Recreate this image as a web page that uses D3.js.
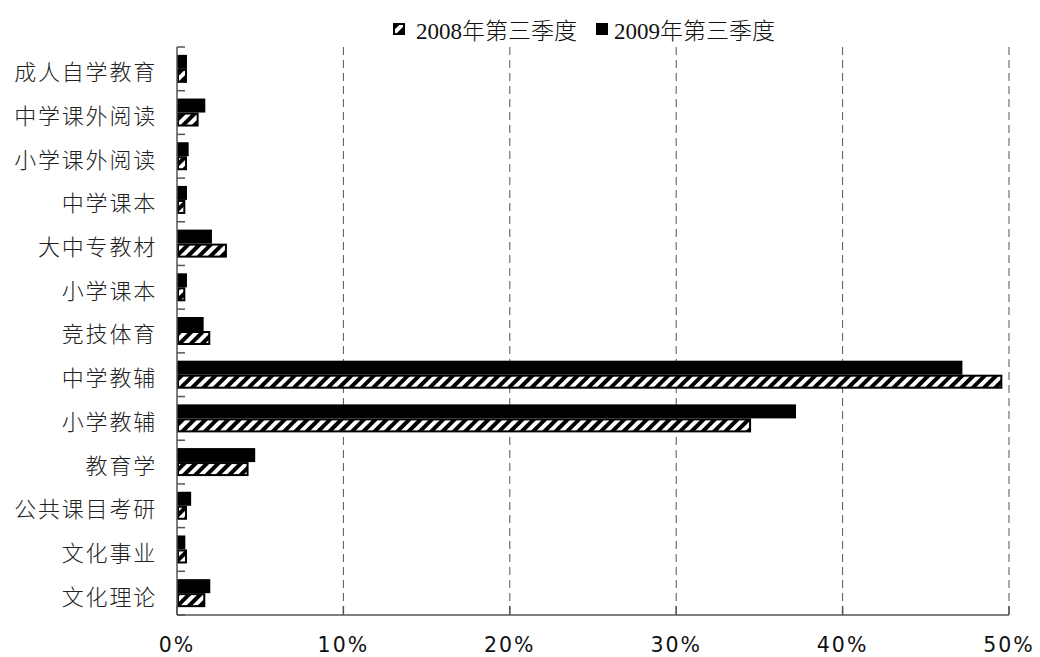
<!DOCTYPE html>
<html><head><meta charset="utf-8">
<script src="https://cdn.jsdelivr.net/npm/d3@7"></script>
<style>body{margin:0;background:#fff}</style>
</head><body>
<svg id="c" width="1040" height="657"></svg>
<script>
const categories = ["成人自学教育","中学课外阅读","小学课外阅读","中学课本","大中专教材","小学课本","竞技体育","中学教辅","小学教辅","教育学","公共课目考研","文化事业","文化理论"];
const series2008 = [0.6,1.3,0.6,0.5,3.0,0.5,2.0,49.6,34.5,4.3,0.6,0.6,1.7];
const series2009 = [0.6,1.7,0.7,0.6,2.1,0.6,1.6,47.2,37.2,4.7,0.85,0.5,2.0];
const xTicks = [0,10,20,30,40,50];
const seriesNames = ["2008年第三季度","2009年第三季度"];

(function(){
const svg = d3.select("#c");
const pl = 177, pr = 1009, pt = 47, pb = 615;
const x = d3.scaleLinear().domain([0,50]).range([pl,pr]);
const y = d3.scaleBand().domain(categories).range([pt,pb]);

const defs = svg.append("defs");
const pat = defs.append("pattern").attr("id","hatch").attr("patternUnits","userSpaceOnUse")
  .attr("width",8).attr("height",8).attr("patternTransform","rotate(45)");
pat.append("rect").attr("width",8).attr("height",8).attr("fill","#fff");
pat.append("rect").attr("x",0).attr("width",4).attr("height",8).attr("fill","#000");

svg.append("g").selectAll("line").data(xTicks.slice(1)).join("line")
  .attr("x1",d=>x(d)).attr("x2",d=>x(d)).attr("y1",pt).attr("y2",pb)
  .attr("stroke","#555").attr("stroke-width",1).attr("stroke-dasharray","8,5");

const bh = 14;
const g = svg.append("g");
g.selectAll(".b09").data(categories).join("rect")
  .attr("x",x(0)).attr("y",(d)=>y(d)+y.bandwidth()/2-bh)
  .attr("width",(d,i)=>x(series2009[i])-x(0)).attr("height",bh).attr("fill","#000");
g.selectAll(".b08").data(categories).join("rect")
  .attr("x",x(0)+1).attr("y",(d)=>y(d)+y.bandwidth()/2+1)
  .attr("width",(d,i)=>x(series2008[i])-x(0)-2).attr("height",bh-2)
  .attr("fill","url(#hatch)").attr("stroke","#000").attr("stroke-width",2);

svg.append("line").attr("x1",pl).attr("x2",pl).attr("y1",pt).attr("y2",pb).attr("stroke","#555").attr("stroke-width",1.5);
svg.append("g").selectAll("line").data(d3.range(categories.length+1)).join("line")
  .attr("x1",pl).attr("x2",pl+8).attr("y1",i=>pt+i*y.step()).attr("y2",i=>pt+i*y.step())
  .attr("stroke","#555").attr("stroke-width",1.5);
svg.append("g").selectAll("text").data(categories).join("text")
  .attr("x",157).attr("y",d=>y(d)+y.bandwidth()/2).attr("dy","0.52em")
  .attr("text-anchor","end").attr("font-family","Noto Sans CJK SC").attr("font-weight",300)
  .attr("font-size",22).attr("letter-spacing",1.8).attr("fill","#222").text(d=>d);

svg.append("line").attr("x1",pl).attr("x2",pr).attr("y1",pb).attr("y2",pb).attr("stroke","#555").attr("stroke-width",1.5);
svg.append("g").selectAll("line").data(xTicks).join("line")
  .attr("x1",d=>x(d)).attr("x2",d=>x(d)).attr("y1",pb).attr("y2",pb-9)
  .attr("stroke","#555").attr("stroke-width",1.5);
svg.append("g").selectAll("text").data(xTicks).join("text")
  .attr("x",d=>x(d)).attr("y",652).attr("text-anchor","middle")
  .attr("font-family","DejaVu Sans").attr("font-size",20.5).attr("letter-spacing",2).attr("fill","#111")
  .text(d=>d+"%");

const lg = svg.append("g");
lg.append("rect").attr("x",394).attr("y",24).attr("width",10).attr("height",10).attr("fill","url(#hatch)").attr("stroke","#000").attr("stroke-width",2);
lg.append("text").attr("x",416).attr("y",31).attr("dy","0.36em").attr("font-family","Liberation Serif, Noto Sans CJK SC")
  .attr("font-size",23).attr("font-weight",300).attr("fill","#111").text(seriesNames[0]);
lg.append("rect").attr("x",596).attr("y",23).attr("width",12).attr("height",12).attr("fill","#000");
lg.append("text").attr("x",614).attr("y",31).attr("dy","0.36em").attr("font-family","Liberation Serif, Noto Sans CJK SC")
  .attr("font-size",23).attr("font-weight",300).attr("fill","#111").text(seriesNames[1]);
})();
</script>
</body></html>
